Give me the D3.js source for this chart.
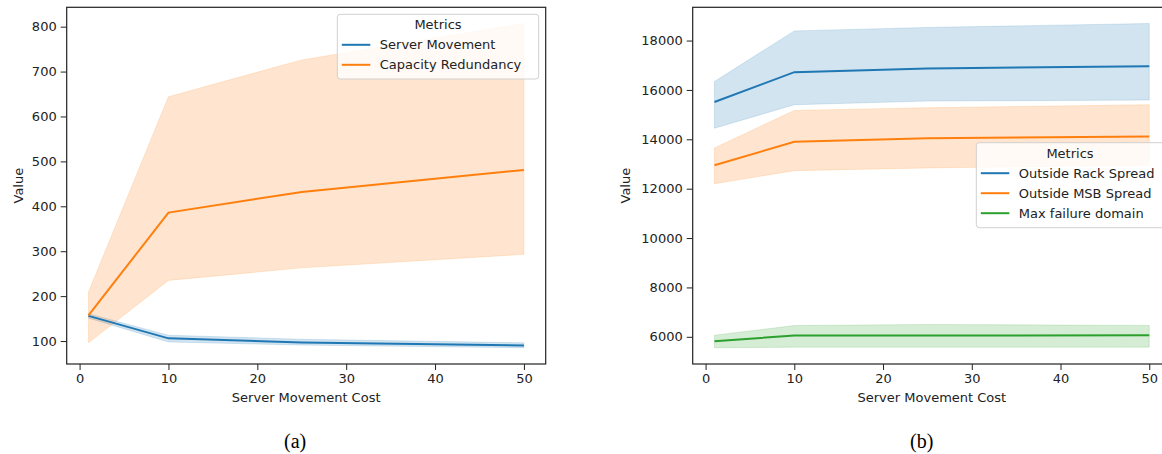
<!DOCTYPE html>
<html>
<head>
<meta charset="utf-8">
<script src="https://cdn.jsdelivr.net/npm/d3@7"></script>
<style>
  body { margin: 0; background: #fff; }
  svg { display: block; font-family: "DejaVu Sans", sans-serif; }
</style>
</head>
<body>
<svg width="1162" height="454"></svg>
<script>
// server movement cost (x)
var costs = [1, 10, 25, 50];

// panel (a)
var serverMovement     = [156, 106, 97, 90];
var serverMovementLo   = [151, 98, 91, 85];
var serverMovementHi   = [161, 113, 104, 96];
var capacityRedundancy   = [157, 386, 432, 481];
var capacityRedundancyLo = [96, 235, 263, 293];
var capacityRedundancyHi = [209, 644, 726, 807];

// panel (b)
var rackSpread   = [15510, 16720, 16870, 16960];
var rackSpreadLo = [14450, 15400, 15550, 15590];
var rackSpreadHi = [16340, 18390, 18530, 18690];
var msbSpread    = [12950, 13900, 14040, 14110];
var msbSpreadLo  = [12200, 12730, 12840, 12950];
var msbSpreadHi  = [13650, 15170, 15280, 15400];
var failDomain   = [5820, 6050, 6055, 6060];
var failDomainLo = [5555, 5580, 5580, 5580];
var failDomainHi = [6065, 6455, 6500, 6460];

var xTicks = [0, 10, 20, 30, 40, 50];
var yTicksA = [100, 200, 300, 400, 500, 600, 700, 800];
var yTicksB = [6000, 8000, 10000, 12000, 14000, 16000, 18000];

var blue = "#1f77b4", orange = "#ff7f0e", green = "#2ca02c";

var svg = d3.select("svg");

function mk(mean, lo, hi, name, color) {
  return { name: name, color: color,
    pts: costs.map(function(c, i) { return { x: c, y: mean[i], lo: lo[i], hi: hi[i] }; }) };
}

var panelA = {
  left: 66.7, right: 545.7, top: 7.3, bottom: 364,
  ticks: yTicksA, caption: "(a)", captionX: 284, ylabX: 18,
  series: [
    mk(serverMovement, serverMovementLo, serverMovementHi, "Server Movement", blue),
    mk(capacityRedundancy, capacityRedundancyLo, capacityRedundancyHi, "Capacity Redundancy", orange)
  ],
  legend: { x: 337.3, y: 14.3, w: 201.4, h: 64.7, titleX: 438 }
};

var panelB = {
  left: 692.7, right: 1171, top: 7.3, bottom: 364,
  ticks: yTicksB, caption: "(b)", captionX: 910, ylabX: 625,
  series: [
    mk(rackSpread, rackSpreadLo, rackSpreadHi, "Outside Rack Spread", blue),
    mk(msbSpread, msbSpreadLo, msbSpreadHi, "Outside MSB Spread", orange),
    mk(failDomain, failDomainLo, failDomainHi, "Max failure domain", green)
  ],
  legend: { x: 976.3, y: 142.7, w: 200, h: 85, titleX: 1070 }
};

function pad(ext) {
  var m = (ext[1] - ext[0]) * 0.05;
  return [ext[0] - m, ext[1] + m];
}

function draw(p) {
  var x = d3.scaleLinear().domain(pad(d3.extent(costs))).range([p.left, p.right]);
  var allLo = d3.min(p.series, function(s) { return d3.min(s.pts, function(d) { return d.lo; }); });
  var allHi = d3.max(p.series, function(s) { return d3.max(s.pts, function(d) { return d.hi; }); });
  var y = d3.scaleLinear().domain(pad([allLo, allHi])).range([p.bottom, p.top]);

  var g = svg.append("g");

  var area = d3.area()
    .x(function(d) { return x(d.x); })
    .y0(function(d) { return y(d.lo); })
    .y1(function(d) { return y(d.hi); });
  var line = d3.line()
    .x(function(d) { return x(d.x); })
    .y(function(d) { return y(d.y); });

  p.series.forEach(function(s) {
    g.append("path").attr("d", area(s.pts))
      .attr("fill", s.color).attr("fill-opacity", 0.2)
      .attr("stroke", s.color).attr("stroke-opacity", 0.2).attr("stroke-width", 0.8);
  });
  p.series.forEach(function(s) {
    g.append("path").attr("d", line(s.pts))
      .attr("fill", "none").attr("stroke", s.color).attr("stroke-width", 2);
  });

  // axes
  var xAxis = g.append("g").attr("transform", "translate(0," + p.bottom + ")")
    .call(d3.axisBottom(x).tickValues(xTicks).tickSize(6).tickPadding(4));
  var yAxis = g.append("g").attr("transform", "translate(" + p.left + ",0)")
    .call(d3.axisLeft(y).tickValues(p.ticks).tickFormat(d3.format("d")).tickSize(6).tickPadding(4));
  [xAxis, yAxis].forEach(function(a) {
    a.select(".domain").remove();
    a.selectAll("text").attr("font-size", 13).attr("fill", "#222")
      .attr("font-family", "DejaVu Sans, sans-serif");
    a.selectAll("line").attr("stroke", "#222");
  });

  // frame
  g.append("rect").attr("x", p.left).attr("y", p.top)
    .attr("width", p.right - p.left).attr("height", p.bottom - p.top)
    .attr("fill", "none").attr("stroke", "#222").attr("stroke-width", 1.2);

  g.append("text").attr("x", (p.left + p.right) / 2).attr("y", 402)
    .attr("text-anchor", "middle").attr("font-size", 13).attr("fill", "#222")
    .text("Server Movement Cost");
  g.append("text")
    .attr("transform", "translate(" + (p.ylabX + 4.5) + "," + ((p.top + p.bottom) / 2) + ") rotate(-90)")
    .attr("text-anchor", "middle").attr("font-size", 13).attr("fill", "#222")
    .text("Value");

  // legend
  var L = p.legend;
  var lg = g.append("g");
  lg.append("rect").attr("x", L.x).attr("y", L.y).attr("width", L.w).attr("height", L.h)
    .attr("rx", 3).attr("fill", "#fff").attr("fill-opacity", 0.8)
    .attr("stroke", "#d0d0d0").attr("stroke-width", 1);
  lg.append("text").attr("x", L.titleX).attr("y", L.y + 15)
    .attr("text-anchor", "middle").attr("font-size", 13).attr("fill", "#222").text("Metrics");
  p.series.forEach(function(s, i) {
    var yy = L.y + 30.5 + i * 20;
    lg.append("line").attr("x1", L.x + 4.5).attr("x2", L.x + 33).attr("y1", yy).attr("y2", yy)
      .attr("stroke", s.color).attr("stroke-width", 2);
    lg.append("text").attr("x", L.x + 42.5).attr("y", yy + 4.5)
      .attr("font-size", 13).attr("fill", "#222").text(s.name);
  });

  svg.append("text").attr("x", p.captionX).attr("y", 448)
    .attr("font-family", "'Liberation Serif', serif")
    .attr("font-size", 20).attr("fill", "#000").text(p.caption);
}

draw(panelA);
draw(panelB);
</script>
</body>
</html>
